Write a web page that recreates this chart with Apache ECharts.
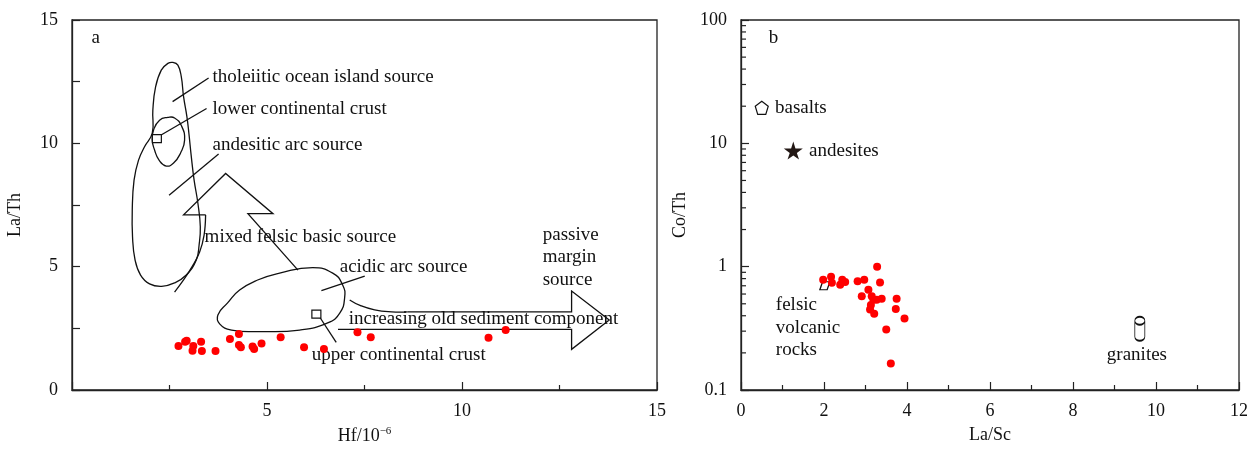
<!DOCTYPE html>
<html><head><meta charset="utf-8">
<script src="https://cdn.jsdelivr.net/npm/echarts@6/dist/echarts.min.js"></script>
<style>html,body{margin:0;padding:0;background:#fff}#c{width:1252px;height:450px}</style>
</head><body><div id="c"></div>
<script>
// ---------- Panel a: Hf vs La/Th ----------
const hfValues   = [2.73,2.90,2.94,3.11,3.09,3.31,3.33,3.68,4.05,4.28,4.28,4.33,4.63,4.67,4.86,5.35,5.95,6.46,7.32,7.66,10.68,11.12];
const laThValues = [1.78,1.96,2.00,1.78,1.59,1.96,1.58,1.58,2.07,2.27,1.82,1.73,1.76,1.66,1.89,2.14,1.73,1.66,2.34,2.14,2.12,2.43];
// ---------- Panel b: La/Sc vs Co/Th ----------
const laScValues = [1.98,2.17,2.19,2.39,2.44,2.51,2.81,2.97,3.28,3.35,3.07,2.91,3.15,3.19,3.27,3.39,3.13,3.11,3.21,3.75,3.73,3.94,3.50,3.61];
const coThValues = [0.785,0.83,0.74,0.715,0.785,0.75,0.76,0.785,1.0,0.745,0.65,0.575,0.575,0.54,0.54,0.55,0.49,0.45,0.415,0.55,0.454,0.38,0.31,0.164];
// reference compositions (panel b)
const basaltsRef   = [0.50, 19.4];
const andesitesRef = [1.26, 8.73];
const felsicRef    = [2.02, 0.70];
const granitesRef  = [9.61, 0.314];

// axis ranges / tick labels
const axisA_x = [0, 15, 5];     // min, max, interval
const axisA_y = [0, 15, 5];
const axisB_x = [0, 12, 2];
const axisB_y = [0.1, 100];
const logMinorTicks = [0.2,0.3,0.4,0.5,0.6,0.7,0.8,0.9,2,3,4,5,6,7,8,9,20,30,40,50,60,70,80,90];

// ---------- field outlines in data coordinates (panel a) ----------
const outerField = [[2.058,10.41],[2.073,11.35],[2.143,12.29],[2.289,12.97],[2.458,13.24],[2.587,13.28],[2.715,13.17],[2.802,12.70],[2.861,11.89],[2.946,11.08],[2.997,10.41],[3.059,9.46],[3.131,8.51],[3.228,7.57],[3.290,6.62],[3.259,5.88],[3.187,5.27],[2.930,4.66],[2.630,4.34],[2.297,4.20],[1.989,4.30],[1.758,4.66],[1.617,5.27],[1.552,6.21],[1.545,7.30],[1.591,8.51],[1.706,9.32],[1.860,9.86]];
const lowerField = [[2.458,11.05],[2.245,10.94],[2.091,10.54],[2.058,10.13],[2.117,9.73],[2.232,9.32],[2.417,9.08],[2.605,9.20],[2.784,9.61],[2.887,10.13],[2.810,10.70],[2.630,11.03]];
const acidicField = [[3.741,3.04],[3.99,3.53],[4.298,4.05],[4.76,4.46],[5.324,4.74],[6.17,4.96],[6.685,4.74],[6.94,4.26],[6.99,3.73],[6.865,3.12],[6.556,2.72],[5.837,2.43],[4.811,2.37],[4.093,2.43],[3.785,2.68]];
const mixedShaftLeft = [[3.426,7.10],[3.387,6.28],[3.272,5.59],[3.092,5.03],[2.861,4.46],[2.630,3.97]];
const mixedArrowHead = [[3.426,7.10],[2.861,7.10],[3.939,8.78],[5.153,7.15],[4.511,7.15],[5.794,4.86]];
const passiveCurve = [[7.12,3.65],[7.40,3.42],[7.76,3.25],[8.20,3.17],[8.60,3.17]];
const passiveArrow = [[8.60,3.17],[12.81,3.17],[12.81,4.01],[13.775,2.84],[12.81,1.65],[12.81,2.46],[6.82,2.46]];
const leaders = [
  [[2.579,11.69],[3.503,12.65]],
  [[2.284,10.34],[3.451,11.41]],
  [[2.489,7.90],[3.759,9.57]],
  [[6.395,4.03],[7.506,4.62]],
  [[6.35,2.96],[6.775,1.93]]
];
const squaresA = [[2.176,10.19],[6.266,3.08]];
const labelsA = [
  [0.5,14.27,'a'],
  [3.605,12.69,'tholeiitic ocean island source'],
  [3.605,11.39,'lower continental crust'],
  [3.605,9.93,'andesitic arc source'],
  [3.40,6.20,'mixed felsic basic source'],
  [6.865,4.99,'acidic arc source'],
  [12.07,5.39,'passive\nmargin\nsource'],
  [7.095,2.88,'increasing old sediment component'],
  [6.145,1.42,'upper continental crust']
];
const labelsB = [
  [0.67,72,'b','left'],
  [0.82,19.4,'basalts','left'],
  [1.64,8.73,'andesites','left'],
  [0.84,0.32,'felsic\nvolcanic\nrocks','left'],
  [9.54,0.193,'granites','center']
];

const FONT = 'Liberation Serif';
const INK = '#111';
const TXT = 19;
const TICKTXT = 18;

function outline(pts, closed, smooth) {
  return {
    type: 'custom', xAxisIndex: 0, yAxisIndex: 0, silent: true, z: 3,
    data: [pts[0]],
    renderItem: function (params, api) {
      const points = pts.map(p => api.coord(p));
      return { type: closed ? 'polygon' : 'polyline',
        shape: { points: points, smooth: smooth || 0 },
        style: { fill: 'none', stroke: INK, lineWidth: 1.3 } };
    }
  };
}
function textSeries(list, xi, yi) {
  return {
    type: 'custom', xAxisIndex: xi, yAxisIndex: yi, silent: true, z: 6,
    data: list.map(d => [d[0], d[1]]),
    renderItem: function (params, api) {
      const d = list[params.dataIndex];
      const p = api.coord([d[0], d[1]]);
      return { type: 'text', x: p[0], y: p[1],
        style: { text: d[2], fontFamily: FONT, fontSize: TXT, fill: INK,
          align: d[3] || 'left', verticalAlign: 'middle', lineHeight: 22.5 } };
    }
  };
}

const axisLabelStyle = { fontFamily: FONT, fontSize: TICKTXT, color: INK };
const axisLineStyle = { lineStyle: { color: '#222', width: 1.3 } };

const series = [];
series.push(outline(outerField, true, 0.45));
series.push(outline(lowerField, true, 0.5));
series.push(outline(acidicField, true, 0.5));
series.push(outline(mixedShaftLeft, false, 0.4));
series.push(outline(mixedArrowHead, false, 0));
series.push(outline(passiveCurve, false, 0.5));
series.push(outline(passiveArrow, false, 0));
leaders.forEach(l => series.push(outline(l, false, 0)));
series.push({
  type: 'custom', xAxisIndex: 0, yAxisIndex: 0, silent: true, z: 4,
  data: squaresA,
  renderItem: function (params, api) {
    const p = api.coord([api.value(0), api.value(1)]);
    return { type: 'rect', shape: { x: p[0] - 4.5, y: p[1] - 4, width: 9, height: 8 },
      style: { fill: '#fff', stroke: INK, lineWidth: 1.2 } };
  }
});
series.push(textSeries(labelsA, 0, 0));
series.push({
  type: 'scatter', xAxisIndex: 0, yAxisIndex: 0, z: 8,
  data: hfValues.map((v, i) => [v, laThValues[i]]),
  symbolSize: 8, itemStyle: { color: '#ff0000', opacity: 1 }
});

// panel b
series.push({
  type: 'custom', xAxisIndex: 1, yAxisIndex: 1, silent: true, z: 3,
  data: logMinorTicks.map(v => [0, v]),
  renderItem: function (params, api) {
    const p = api.coord([0, api.value(1)]);
    return { type: 'line', shape: { x1: p[0], y1: p[1], x2: p[0] + 5, y2: p[1] },
      style: { stroke: '#222', lineWidth: 1.2 } };
  }
});
series.push({
  type: 'scatter', xAxisIndex: 1, yAxisIndex: 1, z: 5, silent: true,
  data: [basaltsRef],
  symbol: 'path://M5,0 L10,3.8 L8.1,10 L1.9,10 L0,3.8 Z', symbolSize: [13, 13],
  itemStyle: { color: '#fff', borderColor: INK, borderWidth: 1.2, opacity: 1 }
});
series.push({
  type: 'scatter', xAxisIndex: 1, yAxisIndex: 1, z: 5, silent: true,
  data: [andesitesRef],
  symbol: 'path://M50,0 L61,35 L98,35 L68,57 L79,91 L50,70 L21,91 L32,57 L2,35 L39,35 Z', symbolSize: [19, 18],
  itemStyle: { color: '#231815', opacity: 1 }
});
series.push({
  type: 'scatter', xAxisIndex: 1, yAxisIndex: 1, z: 5, silent: true,
  data: [felsicRef],
  symbol: 'path://M3,0 L11,0 L8,8 L0,8 Z', symbolSize: [10, 8],
  itemStyle: { color: '#fff', borderColor: INK, borderWidth: 1.2, opacity: 1 }
});
series.push({
  type: 'scatter', xAxisIndex: 1, yAxisIndex: 1, z: 5, silent: true,
  data: [granitesRef],
  symbol: 'path://M0,4 A5,4 0 0 1 10,4 L10,20 A5,4 0 0 1 0,20 Z M0,4 A5,4 0 0 0 10,4', symbolSize: [10, 24],
  itemStyle: { color: '#fff', borderColor: INK, borderWidth: 1.2, opacity: 1 }
});
series.push(textSeries(labelsB, 1, 1));
series.push({
  type: 'scatter', xAxisIndex: 1, yAxisIndex: 1, z: 8,
  data: laScValues.map((v, i) => [v, coThValues[i]]),
  symbolSize: 8, itemStyle: { color: '#ff0000', opacity: 1 }
});

const chart = echarts.init(document.getElementById('c'), null, { renderer: 'canvas' });
chart.setOption({
  animation: false,
  backgroundColor: '#fff',
  grid: [
    { left: 72, top: 20, width: 585, height: 370, show: true, borderColor: '#222', borderWidth: 1.3, backgroundColor: 'transparent' },
    { left: 741, top: 20, width: 498, height: 370, show: true, borderColor: '#222', borderWidth: 1.3, backgroundColor: 'transparent' }
  ],
  xAxis: [
    { gridIndex: 0, type: 'value', min: axisA_x[0], max: axisA_x[1], interval: axisA_x[2],
      name: '{a|Hf/10}{b|−6}', nameLocation: 'middle', nameGap: 36,
      nameTextStyle: { rich: { a: { fontFamily: FONT, fontSize: TICKTXT, color: INK, lineHeight: 20 }, b: { fontFamily: FONT, fontSize: 11, color: INK, verticalAlign: 'top', lineHeight: 20 } } },
      axisLine: axisLineStyle, axisTick: { inside: true, length: 8, lineStyle: { color: '#222', width: 1.2 } },
      minorTick: { show: true, splitNumber: 2, length: 5, lineStyle: { color: '#222', width: 1.2 } },
      splitLine: { show: false }, minorSplitLine: { show: false },
      axisLabel: Object.assign({ margin: 12, formatter: v => (v === 0 ? '' : String(v)) }, axisLabelStyle) },
    { gridIndex: 1, type: 'value', min: axisB_x[0], max: axisB_x[1], interval: axisB_x[2],
      name: 'La/Sc', nameLocation: 'middle', nameGap: 36,
      nameTextStyle: { fontFamily: FONT, fontSize: TICKTXT, color: INK },
      axisLine: axisLineStyle, axisTick: { inside: true, length: 8, lineStyle: { color: '#222', width: 1.2 } },
      minorTick: { show: true, splitNumber: 2, length: 5, lineStyle: { color: '#222', width: 1.2 } },
      splitLine: { show: false }, minorSplitLine: { show: false },
      axisLabel: Object.assign({ margin: 12 }, axisLabelStyle) }
  ],
  yAxis: [
    { gridIndex: 0, type: 'value', min: axisA_y[0], max: axisA_y[1], interval: axisA_y[2],
      name: 'La/Th', nameLocation: 'middle', nameGap: 48,
      nameTextStyle: { fontFamily: FONT, fontSize: TICKTXT, color: INK, padding: [0, 20, 0, 0] },
      axisLine: axisLineStyle, axisTick: { inside: true, length: 8, lineStyle: { color: '#222', width: 1.2 } },
      minorTick: { show: true, splitNumber: 2, length: 8, lineStyle: { color: '#222', width: 1.2 } },
      splitLine: { show: false }, minorSplitLine: { show: false },
      axisLabel: Object.assign({ margin: 14 }, axisLabelStyle) },
    { gridIndex: 1, type: 'log', logBase: 10, min: axisB_y[0], max: axisB_y[1],
      name: 'Co/Th', nameLocation: 'middle', nameGap: 52,
      nameTextStyle: { fontFamily: FONT, fontSize: TICKTXT, color: INK, padding: [0, 20, 0, 0] },
      axisLine: axisLineStyle, axisTick: { inside: true, length: 8, lineStyle: { color: '#222', width: 1.2 } },
      minorTick: { show: false },
      splitLine: { show: false }, minorSplitLine: { show: false },
      axisLabel: Object.assign({ margin: 14, formatter: v => String(+v.toPrecision(3)) }, axisLabelStyle) }
  ],
  series: series
});
</script>
</body></html>
